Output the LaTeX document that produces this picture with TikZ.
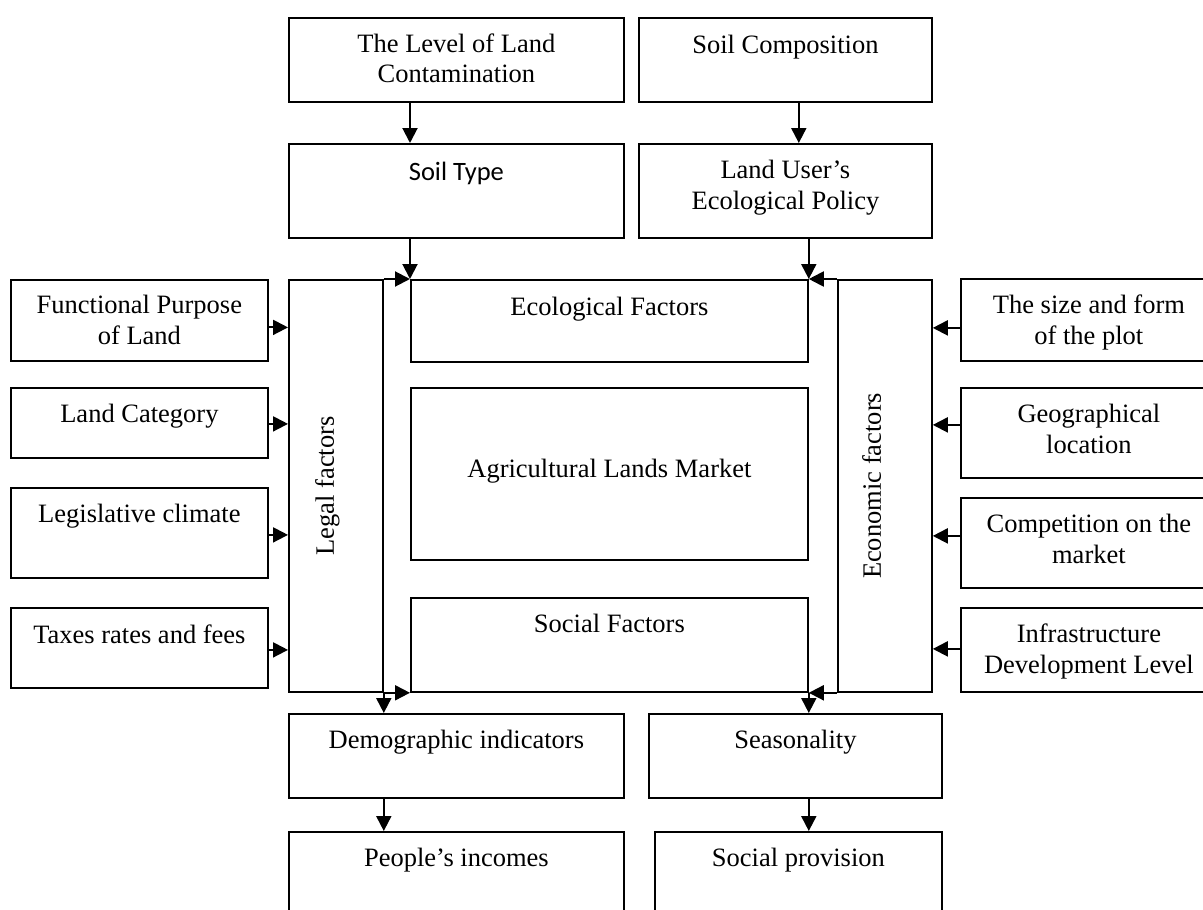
\documentclass[tikz,border=0pt]{standalone}
\usepackage{fontspec}
\setmainfont{Liberation Serif}
\newfontfamily\calib{Carlito}
\usetikzlibrary{arrows.meta,calc}
\newcommand\tb[1]{\parbox[t]{320pt}{\centering #1}}
\begin{document}
\begin{tikzpicture}[x=1pt,y=-1pt,
  box/.style={draw,line width=1.8pt,inner sep=0pt,anchor=north west},
  txt/.style={anchor=base,inner sep=0pt,font=\fontsize{26.5pt}{31pt}\selectfont},
  rtxt/.style={anchor=base,inner sep=0pt,rotate=90,font=\fontsize{26.5pt}{31pt}\selectfont},
  arr/.style={line width=2pt,-{Triangle[length=15pt,width=15pt]}},
  ln/.style={line width=1.8pt}]
\useasboundingbox (0,0) rectangle (1203,910);
% helper to make boxes: x1,y1,x2,y2
\newcommand\mkbox[5]{\node[box,minimum width=#4-#2,minimum height=#5-#3] (#1) at (#2,#3) {};}
\mkbox{cont}{288}{17}{623}{101}
\mkbox{soilt}{288}{143}{623}{237}
\mkbox{scomp}{638}{17}{931}{101}
\mkbox{luser}{638}{143}{931}{237}
\mkbox{fp}{10}{279}{267}{360}
\mkbox{lc}{10}{387}{267}{457}
\mkbox{lclim}{10}{487}{267}{577}
\mkbox{tax}{10}{607}{267}{687}
\mkbox{legal}{288}{279}{382}{691}
\mkbox{eco}{410}{279}{807}{361}
\mkbox{agr}{410}{387}{807}{559}
\mkbox{soc}{410}{597}{807}{691}
\mkbox{econ}{837}{279}{931}{691}
\mkbox{size}{960}{278}{1216}{360}
\mkbox{geo}{960}{387}{1216}{477}
\mkbox{comp}{960}{497}{1216}{587}
\mkbox{infra}{960}{607}{1216}{691}
\mkbox{demo}{288}{713}{623}{797}
\mkbox{seas}{648}{713}{941}{797}
\mkbox{inc}{288}{831}{623}{935}
\mkbox{prov}{654}{831}{941}{935}
% texts
\node[txt] (contT) at ([yshift=-35pt]cont.north) {\tb{The Level of Land\\Contamination}};
\node[txt] (soiltT) at ([yshift=-37pt]soilt.north) {\tb{\calib Soil Type}};
\node[txt] (scompT) at ([yshift=-36pt]scomp.north) {\tb{Soil Composition}};
\node[txt] (luserT) at ([yshift=-35pt]luser.north) {\tb{Land User’s\\Ecological Policy}};
\node[txt] (fpT) at ([yshift=-34pt]fp.north) {\tb{Functional Purpose\\of Land}};
\node[txt] (lcT) at ([yshift=-35pt]lc.north) {\tb{Land Category}};
\node[txt] (lclimT) at ([yshift=-35pt]lclim.north) {\tb{Legislative climate}};
\node[txt] (taxT) at ([yshift=-36pt]tax.north) {\tb{Taxes rates and fees}};
\node[txt] (ecoT) at ([yshift=-36pt]eco.north) {\tb{Ecological Factors}};
\node[txt] (agrT) at ([yshift=-90pt]agr.north) {\tb{Agricultural Lands Market}};
\node[txt] (socT) at ([yshift=-35pt]soc.north) {\tb{Social Factors}};
\node[txt] (sizeT) at ([yshift=-35pt]size.north) {\tb{The size and form\\of the plot}};
\node[txt] (geoT) at ([yshift=-35pt]geo.north) {\tb{Geographical\\location}};
\node[txt] (compT) at ([yshift=-35pt]comp.north) {\tb{Competition on the\\market}};
\node[txt] (infraT) at ([yshift=-35pt]infra.north) {\tb{Infrastructure\\Development Level}};
\node[txt] (demoT) at ([yshift=-35pt]demo.north) {\tb{Demographic indicators}};
\node[txt] (seasT) at ([yshift=-35pt]seas.north) {\tb{Seasonality}};
\node[txt] (incT) at ([yshift=-35pt]inc.north) {\tb{People’s incomes}};
\node[txt] (provT) at ([yshift=-35pt]prov.north) {\tb{Social provision}};
\node[rtxt] (legalT) at ([xshift=-2pt]legal.center) {Legal factors};
\node[rtxt] (econT) at ([xshift=-4pt]econ.center) {Economic factors};
% arrows top
\draw[arr] (cont.south -| eco.west) -- (soilt.north -| eco.west);
\draw[arr] (soilt.south -| eco.west) -- (eco.north west);
\draw[arr] ([xshift=-10pt]scomp.south -| eco.east) -- ([xshift=-10pt]luser.north -| eco.east);
\draw[arr] (luser.south -| eco.east) -- (eco.north east);
\draw[arr] (legal.north east) -- (eco.north west);
\draw[arr] (econ.north west) -- (eco.north east);
% arrows bottom
\draw[arr] (legal.south east) -- (soc.south west);
\draw[arr] (econ.south west) -- (soc.south east);
\draw[arr] (legal.south east) -- (demo.north -| legal.east);
\draw[arr] (soc.south east) -- (seas.north -| soc.east);
\draw[arr] (demo.south -| legal.east) -- (inc.north -| legal.east);
\draw[arr] (seas.south -| soc.east) -- (prov.north -| soc.east);
% left inputs
\draw[arr] ([yshift=-7pt]fp.east) -- ([yshift=-7pt]fp.east -| legal.west);
\draw[arr] ([yshift=-1pt]lc.east) -- ([yshift=-1pt]lc.east -| legal.west);
\draw[arr] ([yshift=-2pt]lclim.east) -- ([yshift=-2pt]lclim.east -| legal.west);
\draw[arr] ([yshift=-2pt]tax.east) -- ([yshift=-2pt]tax.east -| legal.west);
% right inputs
\draw[arr] ([yshift=-8pt]size.west) -- ([yshift=-8pt]size.west -| econ.east);
\draw[arr] ([yshift=8pt]geo.west) -- ([yshift=8pt]geo.west -| econ.east);
\draw[arr] ([yshift=7pt]comp.west) -- ([yshift=7pt]comp.west -| econ.east);
\draw[arr] ([yshift=1pt]infra.west) -- ([yshift=1pt]infra.west -| econ.east);
\end{tikzpicture}
\end{document}
